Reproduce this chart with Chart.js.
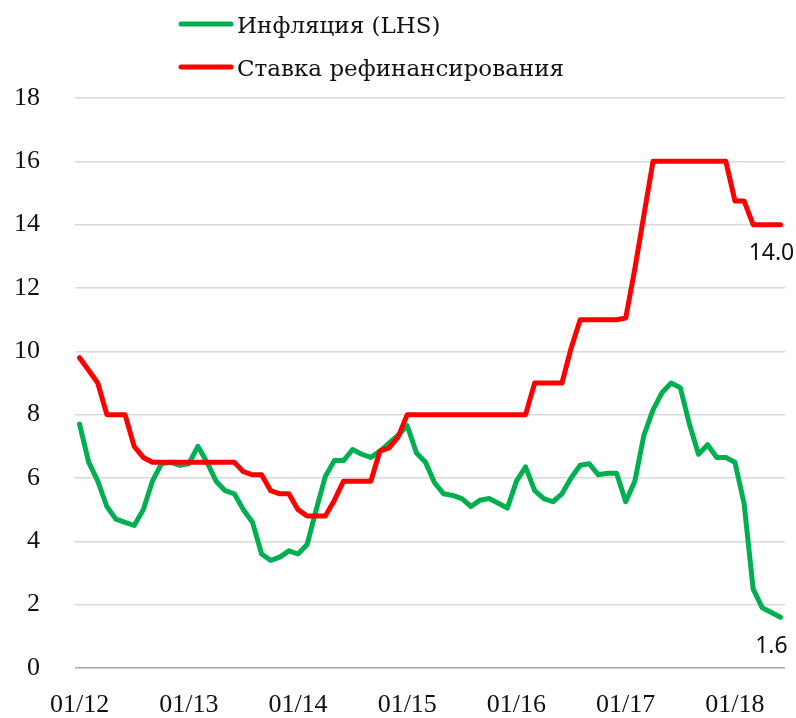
<!DOCTYPE html>
<html><head><meta charset="utf-8">
<script src="https://cdn.jsdelivr.net/npm/chart.js@4"></script>
<style>html,body{margin:0;padding:0;background:#fff}#wrap{width:796px;height:718px;position:relative}</style>
</head><body><div id="wrap"><canvas id="c"></canvas></div>
<script>
// Categories: monthly, 01/12 .. 06/18
const startYear = 2012;
const monthCount = 78;
const categories = [];
for (let i = 0; i < monthCount; i++) {
  const m = (i % 12) + 1, y = startYear + Math.floor(i / 12);
  categories.push(String(m).padStart(2, '0') + '/' + String(y % 100).padStart(2, '0'));
}
const seriesNames = ['Инфляция (LHS)', 'Ставка рефинансирования'];
const inflation = [
  7.7, 6.5, 5.9, 5.1, 4.7, 4.6, 4.5, 5.0, 5.9, 6.45, 6.5, 6.4,
  6.45, 7.0, 6.5, 5.9, 5.6, 5.5, 5.0, 4.6, 3.6, 3.4, 3.5, 3.7,
  3.6, 3.9, 5.0, 6.05, 6.55, 6.55, 6.9, 6.75, 6.65, 6.85, 7.1, 7.35,
  7.65, 6.8, 6.5, 5.85, 5.5, 5.45, 5.35, 5.1, 5.3, 5.35, 5.2, 5.05,
  5.9, 6.35, 5.6, 5.35, 5.25, 5.5, 6.0, 6.4, 6.45, 6.1, 6.15, 6.15,
  5.25, 5.9, 7.35, 8.15, 8.7, 9.0, 8.85, 7.7, 6.75, 7.05, 6.65, 6.65,
  6.5, 5.2, 2.5, 1.9, 1.75, 1.6
];
const refiRate = [
  9.8, 9.4, 9.0, 8.0, 8.0, 8.0, 7.0, 6.65, 6.5, 6.5, 6.5, 6.5,
  6.5, 6.5, 6.5, 6.5, 6.5, 6.5, 6.2, 6.1, 6.1, 5.6, 5.5, 5.5,
  5.0, 4.8, 4.8, 4.8, 5.3, 5.9, 5.9, 5.9, 5.9, 6.85, 6.95, 7.3,
  8.0, 8.0, 8.0, 8.0, 8.0, 8.0, 8.0, 8.0, 8.0, 8.0, 8.0, 8.0,
  8.0, 8.0, 9.0, 9.0, 9.0, 9.0, 10.1, 11.0, 11.0, 11.0, 11.0, 11.0,
  11.05, 12.6, 14.3, 16.0, 16.0, 16.0, 16.0, 16.0, 16.0, 16.0, 16.0, 16.0,
  14.75, 14.75, 14.0, 14.0, 14.0, 14.0
];
const yMin = 0, yMax = 18, yStep = 2;

const legendPlugin = {
  id: 'customLegend',
  afterDraw(chart) {
    const ctx = chart.ctx;
    ctx.save();
    const rows = [24, 67];
    chart.data.datasets.forEach((ds, i) => {
      const y = rows[i];
      ctx.strokeStyle = ds.borderColor;
      ctx.lineWidth = 5;
      ctx.lineCap = 'round';
      ctx.beginPath();
      ctx.moveTo(181, y);
      ctx.lineTo(231, y);
      ctx.stroke();
      ctx.fillStyle = '#111';
      ctx.font = '23px "DejaVu Serif"';
      ctx.textBaseline = 'alphabetic';
      ctx.textAlign = 'left';
      ctx.fillText(ds.label, 237, y + 9);
    });
    ctx.restore();
  }
};

const lastLabelPlugin = {
  id: 'lastLabel',
  afterDraw(chart) {
    const ctx = chart.ctx;
    const xs = chart.scales.x, ys = chart.scales.y;
    ctx.save();
    ctx.font = '23px "Noto Sans"';
    ctx.fillStyle = '#111';
    ctx.textAlign = 'center';
    ctx.textBaseline = 'middle';
    chart.data.datasets.forEach((ds) => {
      const idx = ds.data.length - 1;
      const v = ds.data[idx];
      const px = xs.getPixelForValue(idx);
      const py = ys.getPixelForValue(v);
      ctx.fillText(v.toFixed(1), px - 9, py + 29);
    });
    ctx.restore();
  }
};

new Chart(document.getElementById('c'), {
  type: 'line',
  data: {
    labels: categories,
    datasets: [
      { label: seriesNames[0], data: inflation, borderColor: '#00B050', backgroundColor: '#00B050',
        borderWidth: 5, pointRadius: 0, tension: 0, borderJoinStyle: 'round', borderCapStyle: 'round', order: 1 },
      { label: seriesNames[1], data: refiRate, borderColor: '#FF0000', backgroundColor: '#FF0000',
        borderWidth: 5, pointRadius: 0, tension: 0, borderJoinStyle: 'round', borderCapStyle: 'round', order: 0 }
    ]
  },
  options: {
    responsive: true,
    maintainAspectRatio: false,
    animation: false,
    devicePixelRatio: 1,
    layout: { padding: { top: 98, left: 14, right: 11, bottom: 0 } },
    plugins: { legend: { display: false }, tooltip: { enabled: false } },
    scales: {
      x: {
        offset: true,
        grid: { display: false, drawTicks: false },
        border: { display: false },
        afterFit: s => { s.height = 50; s.paddingLeft = 0; s.paddingRight = 0; },
        ticks: {
          autoSkip: false, maxRotation: 0, padding: 24,
          color: '#111',
          font: { family: '"Liberation Serif"', size: 26, lineHeight: 1 },
          callback: function(val) { const l = this.getLabelForValue(val); return l.startsWith('01/') ? l : ''; }
        }
      },
      y: {
        min: yMin, max: yMax,
        grid: { color: c => c.tick.value === 0 ? '#a6a6a6' : '#d9d9d9', lineWidth: 1.5, drawTicks: false },
        border: { display: false },
        afterFit: s => { s.width = 61; s.paddingTop = 0; s.paddingBottom = 0; },
        ticks: { stepSize: yStep, padding: 35, color: '#111',
          font: { family: '"Liberation Serif"', size: 26, lineHeight: 1 } }
      }
    }
  },
  plugins: [legendPlugin, lastLabelPlugin]
});
</script></body></html>
